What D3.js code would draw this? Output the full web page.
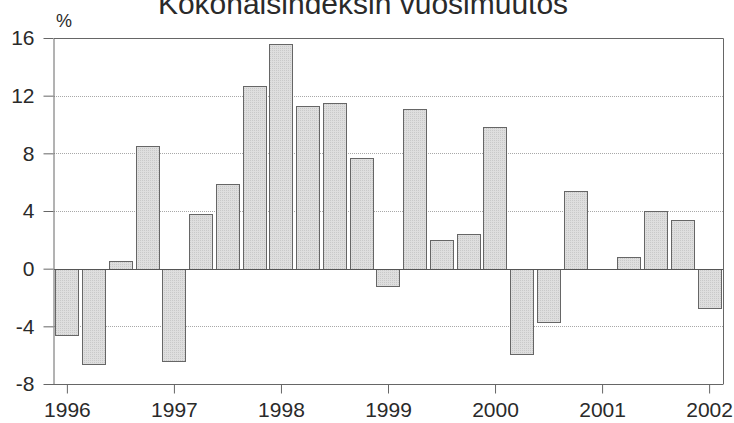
<!DOCTYPE html>
<html>
<head>
<meta charset="utf-8">
<script src="https://cdn.jsdelivr.net/npm/d3@7"></script>
<style>
  html, body { margin: 0; padding: 0; background: #fff; }
  svg { display: block; font-family: "Liberation Sans", Arial, sans-serif; }
</style>
</head>
<body>
<div id="chart"></div>
<script>
// quarterly periods 1996Q1 .. 2002Q1
const periods = [
  "1996Q1", "1996Q2", "1996Q3", "1996Q4",
  "1997Q1", "1997Q2", "1997Q3", "1997Q4",
  "1998Q1", "1998Q2", "1998Q3", "1998Q4",
  "1999Q1", "1999Q2", "1999Q3", "1999Q4",
  "2000Q1", "2000Q2", "2000Q3", "2000Q4",
  "2001Q1", "2001Q2", "2001Q3", "2001Q4",
  "2002Q1",
];
const changes = [
  -4.6, -6.6, 0.5, 8.5,
  -6.4, 3.8, 5.9, 12.7,
  15.6, 11.3, 11.5, 7.7,
  -1.2, 11.1, 2.0, 2.4,
  9.8, -5.9, -3.7, 5.4,
  null, 0.8, 4.0, 3.4,
  -2.7,
];
const yTicks = [-8, -4, 0, 4, 8, 12, 16];
const yearTicks = ["1996Q1", "1997Q1", "1998Q1", "1999Q1", "2000Q1", "2001Q1", "2002Q1"];

const title = "Kokonaisindeksin vuosimuutos";
const unit = "%";

const width = 734;
const height = 423;
const marginTop = 38;
const marginRight = 11;
const marginBottom = 39;
const marginLeft = 54;

const data = periods.map((p, i) => ({ period: p, value: changes[i] }));

const x = d3.scaleBand()
  .domain(periods)
  .range([marginLeft, width - marginRight])
  .paddingInner(0.1)
  .paddingOuter(0.05);

const y = d3.scaleLinear()
  .domain([-8, 16])
  .range([height - marginBottom, marginTop]);

const svg = d3.select("#chart").append("svg")
  .attr("width", width)
  .attr("height", height)
  .attr("viewBox", [0, 0, width, height]);

const defs = svg.append("defs");
// light stipple like the printed bars
const pat = defs.append("pattern")
  .attr("id", "stipple")
  .attr("width", 2)
  .attr("height", 2)
  .attr("patternUnits", "userSpaceOnUse");
pat.append("rect").attr("width", 2).attr("height", 2).attr("fill", "#dedede");
pat.append("rect").attr("width", 1).attr("height", 1).attr("fill", "#c9c9c9");

// dotted grid lines
svg.append("g")
  .attr("class", "grid")
  .selectAll("line")
  .data(yTicks.filter((d) => d !== 0 && d !== -8 && d !== 16))
  .join("line")
  .attr("x1", marginLeft)
  .attr("x2", width - marginRight)
  .attr("y1", (d) => Math.round(y(d)) + 0.5)
  .attr("y2", (d) => Math.round(y(d)) + 0.5)
  .attr("stroke", "#a8a8a8")
  .attr("stroke-dasharray", "1,1");

// bars
svg.append("g")
  .selectAll("rect")
  .data(data.filter((d) => d.value !== null))
  .join("rect")
  .attr("x", (d) => Math.round(x(d.period)) + 0.5)
  .attr("width", Math.round(x.bandwidth()) - 1)
  .attr("y", (d) => Math.round(y(Math.max(0, d.value))) + 0.5)
  .attr("height", (d) => Math.abs(Math.round(y(0)) - Math.round(y(d.value))))
  .attr("fill", "url(#stipple)")
  .attr("stroke", "#666")
  .attr("stroke-width", 1);

// zero line
svg.append("line")
  .attr("x1", marginLeft)
  .attr("x2", width - marginRight)
  .attr("y1", Math.round(y(0)) + 0.5)
  .attr("y2", Math.round(y(0)) + 0.5)
  .attr("stroke", "#555");

// frame: top and right
svg.append("path")
  .attr("d", `M${marginLeft},${marginTop + 0.5}H${width - marginRight + 0.5}V${height - marginBottom}`)
  .attr("fill", "none")
  .attr("stroke", "#666");

// y axis
const gY = svg.append("g")
  .attr("transform", `translate(${marginLeft - 0.5},0)`)
  .call(d3.axisLeft(y).tickValues(yTicks).tickSize(10).tickPadding(9).tickSizeOuter(0)
    .tickFormat((d) => String(d)));
gY.select(".domain").attr("stroke", "#666");
gY.selectAll(".tick line").attr("stroke", "#666");
gY.selectAll(".tick text")
  .attr("fill", "#2a2a2a")
  .attr("font-size", 21)
  .attr("font-family", "Liberation Sans, Arial, sans-serif");

// x axis
const gX = svg.append("g")
  .attr("transform", `translate(0,${Math.round(y(-8)) + 0.5})`)
  .call(d3.axisBottom(x).tickValues(yearTicks).tickSize(9).tickPadding(9).tickSizeOuter(0)
    .tickFormat((d) => d.slice(0, 4)));
gX.select(".domain").attr("stroke", "#666").attr("d", `M${marginLeft - 10},0H${width - marginRight + 0.5}`);
gX.selectAll(".tick line").attr("stroke", "#666");
gX.selectAll(".tick text")
  .attr("fill", "#2a2a2a")
  .attr("font-size", 21)
  .attr("font-family", "Liberation Sans, Arial, sans-serif");

// unit label
svg.append("text")
  .attr("x", marginLeft + 2)
  .attr("y", 27)
  .attr("fill", "#2a2a2a")
  .attr("font-size", 18)
  .text(unit);

// title, cut at the top edge like the scanned original
svg.append("text")
  .attr("x", 363)
  .attr("y", 14)
  .attr("text-anchor", "middle")
  .attr("fill", "#2a2a2a")
  .attr("font-size", 30)
  .text(title);
</script>
</body>
</html>
